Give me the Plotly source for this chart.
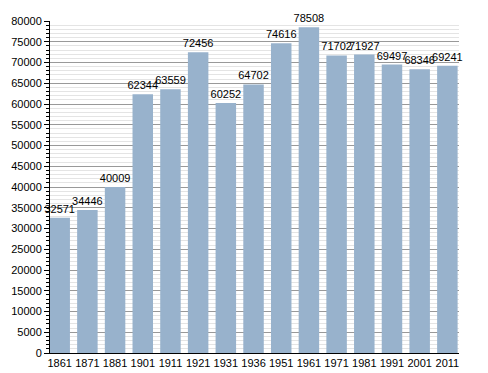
import plotly.graph_objects as go

years = ["1861", "1871", "1881", "1901", "1911", "1921", "1931", "1936",
         "1951", "1961", "1971", "1981", "1991", "2001", "2011"]
population = [32571, 34446, 40009, 62344, 63559, 72456, 60252, 64702,
              74616, 78508, 71702, 71927, 69497, 68346, 69241]
y_ticks = list(range(0, 80001, 5000))

fig = go.Figure(go.Bar(
    x=years, y=population,
    marker=dict(color="#98b2cc", line=dict(width=0)),
    text=[str(v) for v in population],
    textposition="outside",
    constraintext="none",
    textfont=dict(family="Liberation Sans, Arial", size=11, color="black"),
    cliponaxis=False,
))

fig.update_layout(
    width=488, height=373,
    margin=dict(l=50, r=29, t=21, b=20, autoexpand=False),
    plot_bgcolor="white", paper_bgcolor="white",
    bargap=0.26,
    showlegend=False,
    font=dict(family="Liberation Sans, Arial", size=11, color="black"),
)
fig.update_xaxes(
    type="category",
    range=[-0.35, 14.42],
    showline=True, linecolor="black", linewidth=1,
    ticks="", showgrid=False,
    tickfont=dict(size=11),
    automargin=False,
)
fig.update_yaxes(
    range=[0, 80000],
    tickvals=y_ticks,
    ticktext=[str(v) for v in y_ticks],
    showline=True, linecolor="black", linewidth=1,
    ticks="outside", ticklen=5, tickcolor="black",
    showgrid=True, gridcolor="#999999", gridwidth=1,
    zeroline=False,
    minor=dict(dtick=1000, showgrid=True, gridcolor="#e4e4e4",
               ticks="outside", ticklen=3, tickcolor="black"),
    tickfont=dict(size=11),
    automargin=False,
)

fig.write_html("out.html",
               config={"displayModeBar": False},
               post_script="document.body.style.margin='0';document.body.style.padding='0';")
